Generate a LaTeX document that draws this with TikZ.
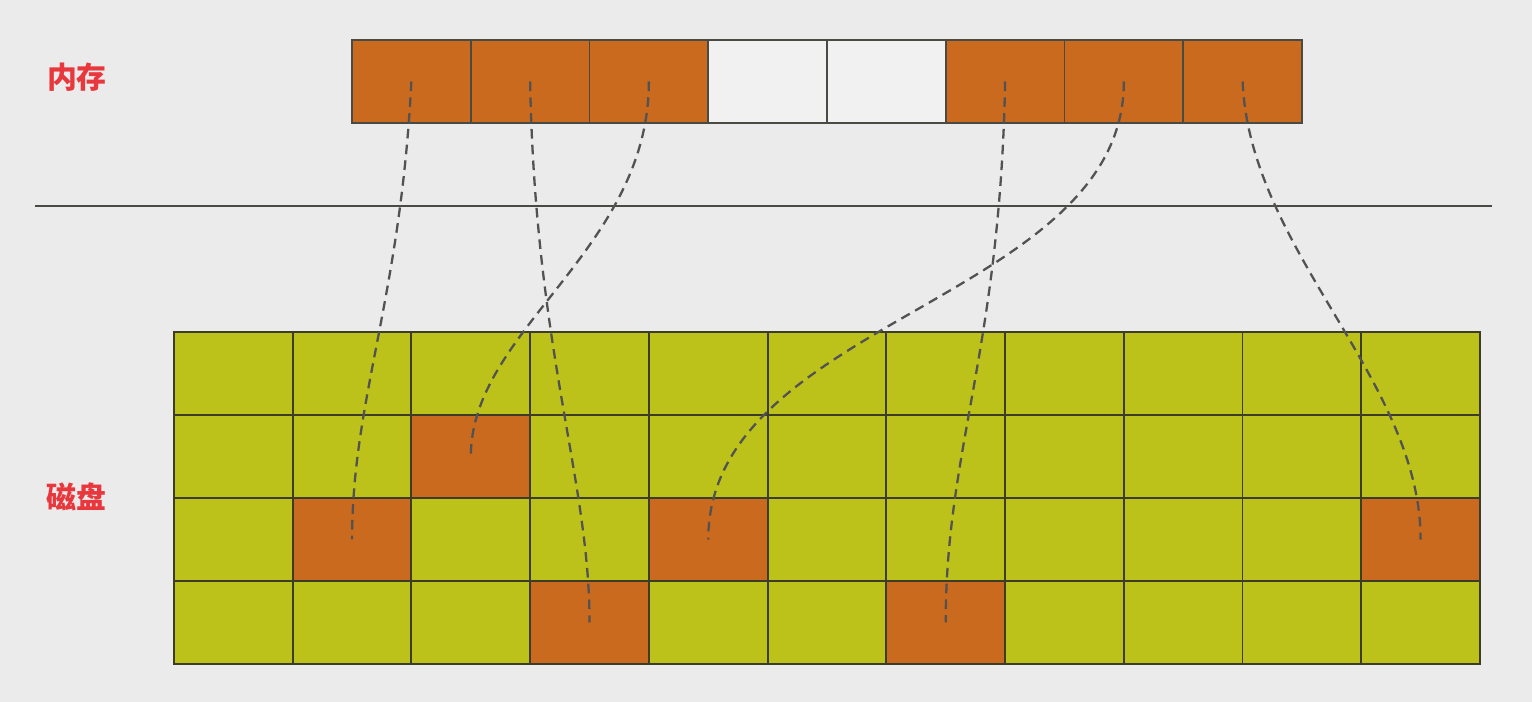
\documentclass[tikz,border=0pt]{standalone}
\usepackage{fontspec}
\newfontfamily\cjk{Noto Sans CJK SC}
\usetikzlibrary{positioning}
\definecolor{bgray}{HTML}{EBEBEB}
\definecolor{blockorange}{HTML}{C96A1E}
\definecolor{blockgreen}{HTML}{BCC21A}
\definecolor{freecell}{HTML}{F1F1F1}
\definecolor{edgegray}{HTML}{4A4A44}
\definecolor{gridedge}{HTML}{3C3C28}
\definecolor{labelred}{HTML}{E8383D}

\begin{document}
\begin{tikzpicture}[node distance=0cm,
    memcell/.style={draw=edgegray, line width=1.1pt, minimum width=2.375cm, minimum height=1.66cm, inner sep=0pt, outer sep=0pt},
    diskcell/.style={draw=gridedge, line width=1.1pt, minimum width=2.3745cm, minimum height=1.66cm, inner sep=0pt, outer sep=0pt},
    link/.style={draw=black!68, line width=1.3pt, dash pattern=on 5.5pt off 3.5pt},
    tag/.style={text=labelred, font=\cjk\bfseries\fontsize{17}{20}\selectfont}]
    \fill[bgray] (0,0) rectangle (30.64,-14.04);
    \useasboundingbox (0,0) rectangle (30.64,-14.04);
    % memory row
    \foreach \i/\col in {0/blockorange,1/blockorange,2/blockorange,3/freecell,4/freecell,5/blockorange,6/blockorange,7/blockorange}
        \node[memcell, fill=\col, anchor=north west] (m\i) at (7.04+2.375*\i,-0.8) {};
    \node[tag] (memlabel) at (1.54,-1.54) {内存};
    % separator
    \coordinate (sepl) at (0.7,-4.12);
    \coordinate (sepr) at (29.84,-4.12);
    \draw[edgegray, line width=1.1pt] (sepl) -- (sepr);
    % disk grid
    \foreach \r in {0,...,3}
        \foreach \c in {0,...,10} {
            \gdef\cellcol{blockgreen}
            \foreach \orow/\ocol in {1/2,2/1,2/4,2/10,3/3,3/6}
                {\ifnum\r=\orow \ifnum\c=\ocol \global\def\cellcol{blockorange}\fi\fi}
            \node[diskcell, fill=\cellcol, anchor=north west] (d\r-\c) at (3.48+2.3745*\c,-6.64-1.66*\r) {};
        }
    \node[tag] (disklabel) at (1.52,-9.94) {磁盘};
    % mappings
    \draw[link] (m0.center) .. controls +(-0.22,-4.36) and +(0,2.8) .. (d2-1.center);
    \draw[link] (m1.center) .. controls +(0.1,-5.37) and +(0,2.85) .. (d3-3.center);
    \draw[link] (m2.center) .. controls +(0,-3.37) and +(0,2.53) .. (d1-2.center);
    \draw[link] (m5.center) .. controls +(-0.1,-5.37) and +(0,3.45) .. (d3-6.center);
    \draw[link] (m6.center) .. controls +(0,-4.37) and +(0,4.39) .. (d2-4.center);
    \draw[link] (m7.center) .. controls +(0.14,-3.37) and +(0,3.19) .. (d2-10.center);
\end{tikzpicture}
\end{document}
